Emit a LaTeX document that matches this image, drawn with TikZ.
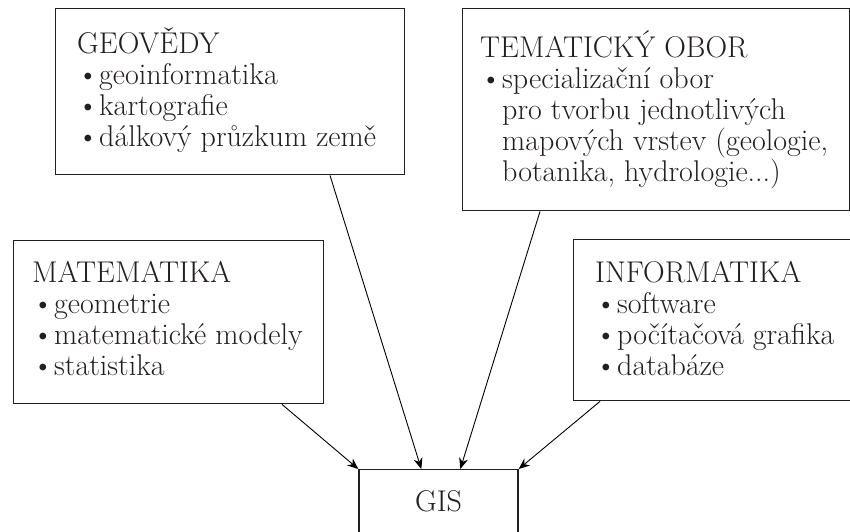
\documentclass[tikz,border=0pt]{standalone}
\usetikzlibrary{arrows.meta,calc}
\definecolor{ink}{RGB}{35,31,32}
\newcommand{\bul}{\makebox[22pt][l]{\textbullet}}
\newcommand{\indsp}{\hspace*{22pt}}
\begin{document}
\begin{tikzpicture}[x=1pt,y=-1pt,
  box/.style={draw=ink, line width=1.4pt, rectangle, inner sep=0pt},
  txt/.style={text=ink, font=\fontsize{30}{31}\selectfont, align=left, inner sep=0pt, anchor=base west},
  arr/.style={draw=black, line width=0.9pt, -{Stealth[length=11pt,width=9pt]}}]
\useasboundingbox (0,0) rectangle (850,531);
% boxes
\node[box, minimum width=349pt, minimum height=166pt, anchor=north west] (geo) at (55,8) {};
\node[box, minimum width=387pt, minimum height=202pt, anchor=north west] (tem) at (462,8) {};
\node[box, minimum width=310pt, minimum height=163pt, anchor=north west] (mat) at (13,240) {};
\node[box, minimum width=280pt, minimum height=161pt, anchor=north west] (inf) at (573,239) {};
\node[box, minimum width=159pt, minimum height=64pt, anchor=north, text=ink, font=\fontsize{30}{31}\selectfont] (gis) at (438.5,469) {GIS};
% texts (anchored at the baseline of the last line)
\node[txt] (geot) at (77,146) {GEOVĚDY\\\bul geoinformatika\\\bul kartografie\\\bul dálkový průzkum země};
\node[txt] (temt) at (480,181) {TEMATICKÝ OBOR\\\bul specializační obor\\\indsp pro tvorbu jednotlivých\\\indsp mapových vrstev (geologie,\\\indsp botanika, hydrologie...)};
\node[txt] (matt) at (32,375) {MATEMATIKA\\\bul geometrie\\\bul matematické modely\\\bul statistika};
\node[txt] (inft) at (595,375) {INFORMATIKA\\\bul software\\\bul počítačová grafika\\\bul databáze};
% arrows
\draw[arr] ([xshift=269pt]mat.south west) -- (gis.north west);
\draw[arr] ([xshift=275pt]geo.south west) -- ([xshift=63pt]gis.north west);
\draw[arr] ([xshift=78pt]tem.south west) -- ([xshift=102pt]gis.north west);
\draw[arr] ([xshift=27pt]inf.south west) -- (gis.north east);
\end{tikzpicture}
\end{document}
